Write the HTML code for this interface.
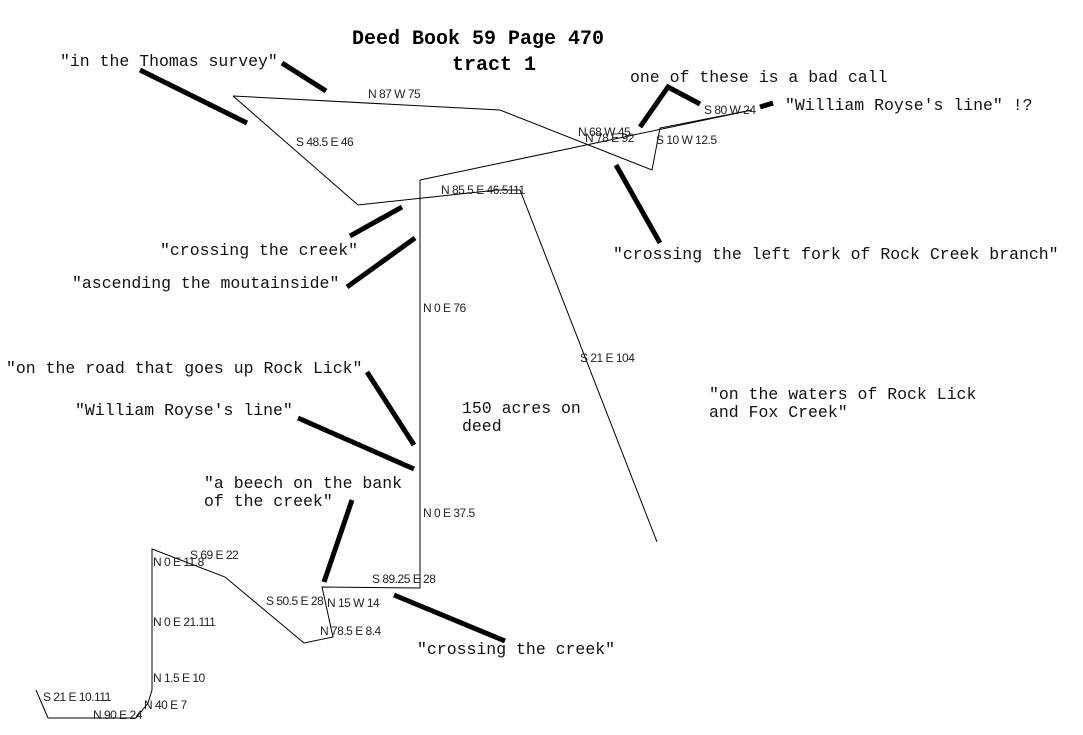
<!DOCTYPE html>
<html><head><meta charset="utf-8"><style>
html,body{margin:0;padding:0;background:#fff;}
svg{display:block}
.m{font-family:"Liberation Mono",monospace;font-size:16.5px;fill:#111}
.t{font-family:"Liberation Mono",monospace;font-size:20px;font-weight:bold;fill:#000}
.s{font-family:"Liberation Sans",sans-serif;font-size:12px;fill:#222;letter-spacing:-0.5px}
</style></head><body>
<svg width="1083" height="735" viewBox="0 0 1083 735">
<text class="t" x="352" y="44">Deed Book 59 Page 470</text>
<text class="t" x="452" y="70">tract 1</text>
<g fill="none" stroke="#000" stroke-width="1">
<polyline points="233,96 500,110 652,170 660,128 752,110"/>
<polyline points="233,96 358,205 497,190 520,190 657,542"/>
<polyline points="420,180 752,110"/>
<polyline points="420,180 420,588 322,587 333,637 304,643 225,577 152,549 152,690 148,703 136,718 48,718 36,690"/>
</g>
<g stroke="#000" stroke-width="5" stroke-linecap="butt" fill="none">
<line x1="282" y1="63" x2="326" y2="91"/>
<line x1="140" y1="70" x2="247" y2="123"/>
<line x1="350" y1="236" x2="402" y2="207"/>
<line x1="347" y1="287" x2="415" y2="238"/>
<line x1="367" y1="372" x2="414" y2="445"/>
<line x1="298" y1="418" x2="414" y2="469"/>
<line x1="352" y1="500" x2="324" y2="582"/>
<line x1="394" y1="595" x2="505" y2="641"/>
<line x1="616" y1="165" x2="660" y2="243"/>
<polyline points="640,127 668,87 700,104"/>
<line x1="760" y1="107" x2="773" y2="103"/>
</g>
<text class="m" x="60" y="66">"in the Thomas survey"</text>
<text class="m" x="630" y="82">one of these is a bad call</text>
<text class="m" x="785" y="110">"William Royse's line" !?</text>
<text class="m" x="160" y="255">"crossing the creek"</text>
<text class="m" x="72" y="288">"ascending the moutainside"</text>
<text class="m" x="613" y="259">"crossing the left fork of Rock Creek branch"</text>
<text class="m" x="6" y="373">"on the road that goes up Rock Lick"</text>
<text class="m" x="75" y="415">"William Royse's line"</text>
<text class="m" x="462" y="413">150 acres on</text>
<text class="m" x="462" y="431">deed</text>
<text class="m" x="709" y="399">"on the waters of Rock Lick</text>
<text class="m" x="709" y="417">and Fox Creek"</text>
<text class="m" x="204" y="488">"a beech on the bank</text>
<text class="m" x="204" y="506">of the creek"</text>
<text class="m" x="417" y="654">"crossing the creek"</text>
<text class="s" x="368" y="98">N 87 W 75</text>
<text class="s" x="296" y="146">S 48.5 E 46</text>
<text class="s" x="578" y="136">N 68 W 45</text>
<text class="s" x="585" y="142">N 78 E 92</text>
<text class="s" x="704" y="114">S 80 W 24</text>
<text class="s" x="656" y="144">S 10 W 12.5</text>
<text class="s" x="441" y="194">N 85.5 E 46.5111</text>
<text class="s" x="423" y="312">N 0 E 76</text>
<text class="s" x="580" y="362">S 21 E 104</text>
<text class="s" x="423" y="517">N 0 E 37.5</text>
<text class="s" x="372" y="583">S 89.25 E 28</text>
<text class="s" x="327" y="607">N 15 W 14</text>
<text class="s" x="266" y="605">S 50.5 E 28</text>
<text class="s" x="320" y="635">N 78.5 E 8.4</text>
<text class="s" x="190" y="559">S 69 E 22</text>
<text class="s" x="153" y="566">N 0 E 11.8</text>
<text class="s" x="153" y="626">N 0 E 21.111</text>
<text class="s" x="153" y="682">N 1.5 E 10</text>
<text class="s" x="144" y="709">N 40 E 7</text>
<text class="s" x="93" y="719">N 90 E 24</text>
<text class="s" x="43" y="701">S 21 E 10.111</text>
</svg>
</body></html>
